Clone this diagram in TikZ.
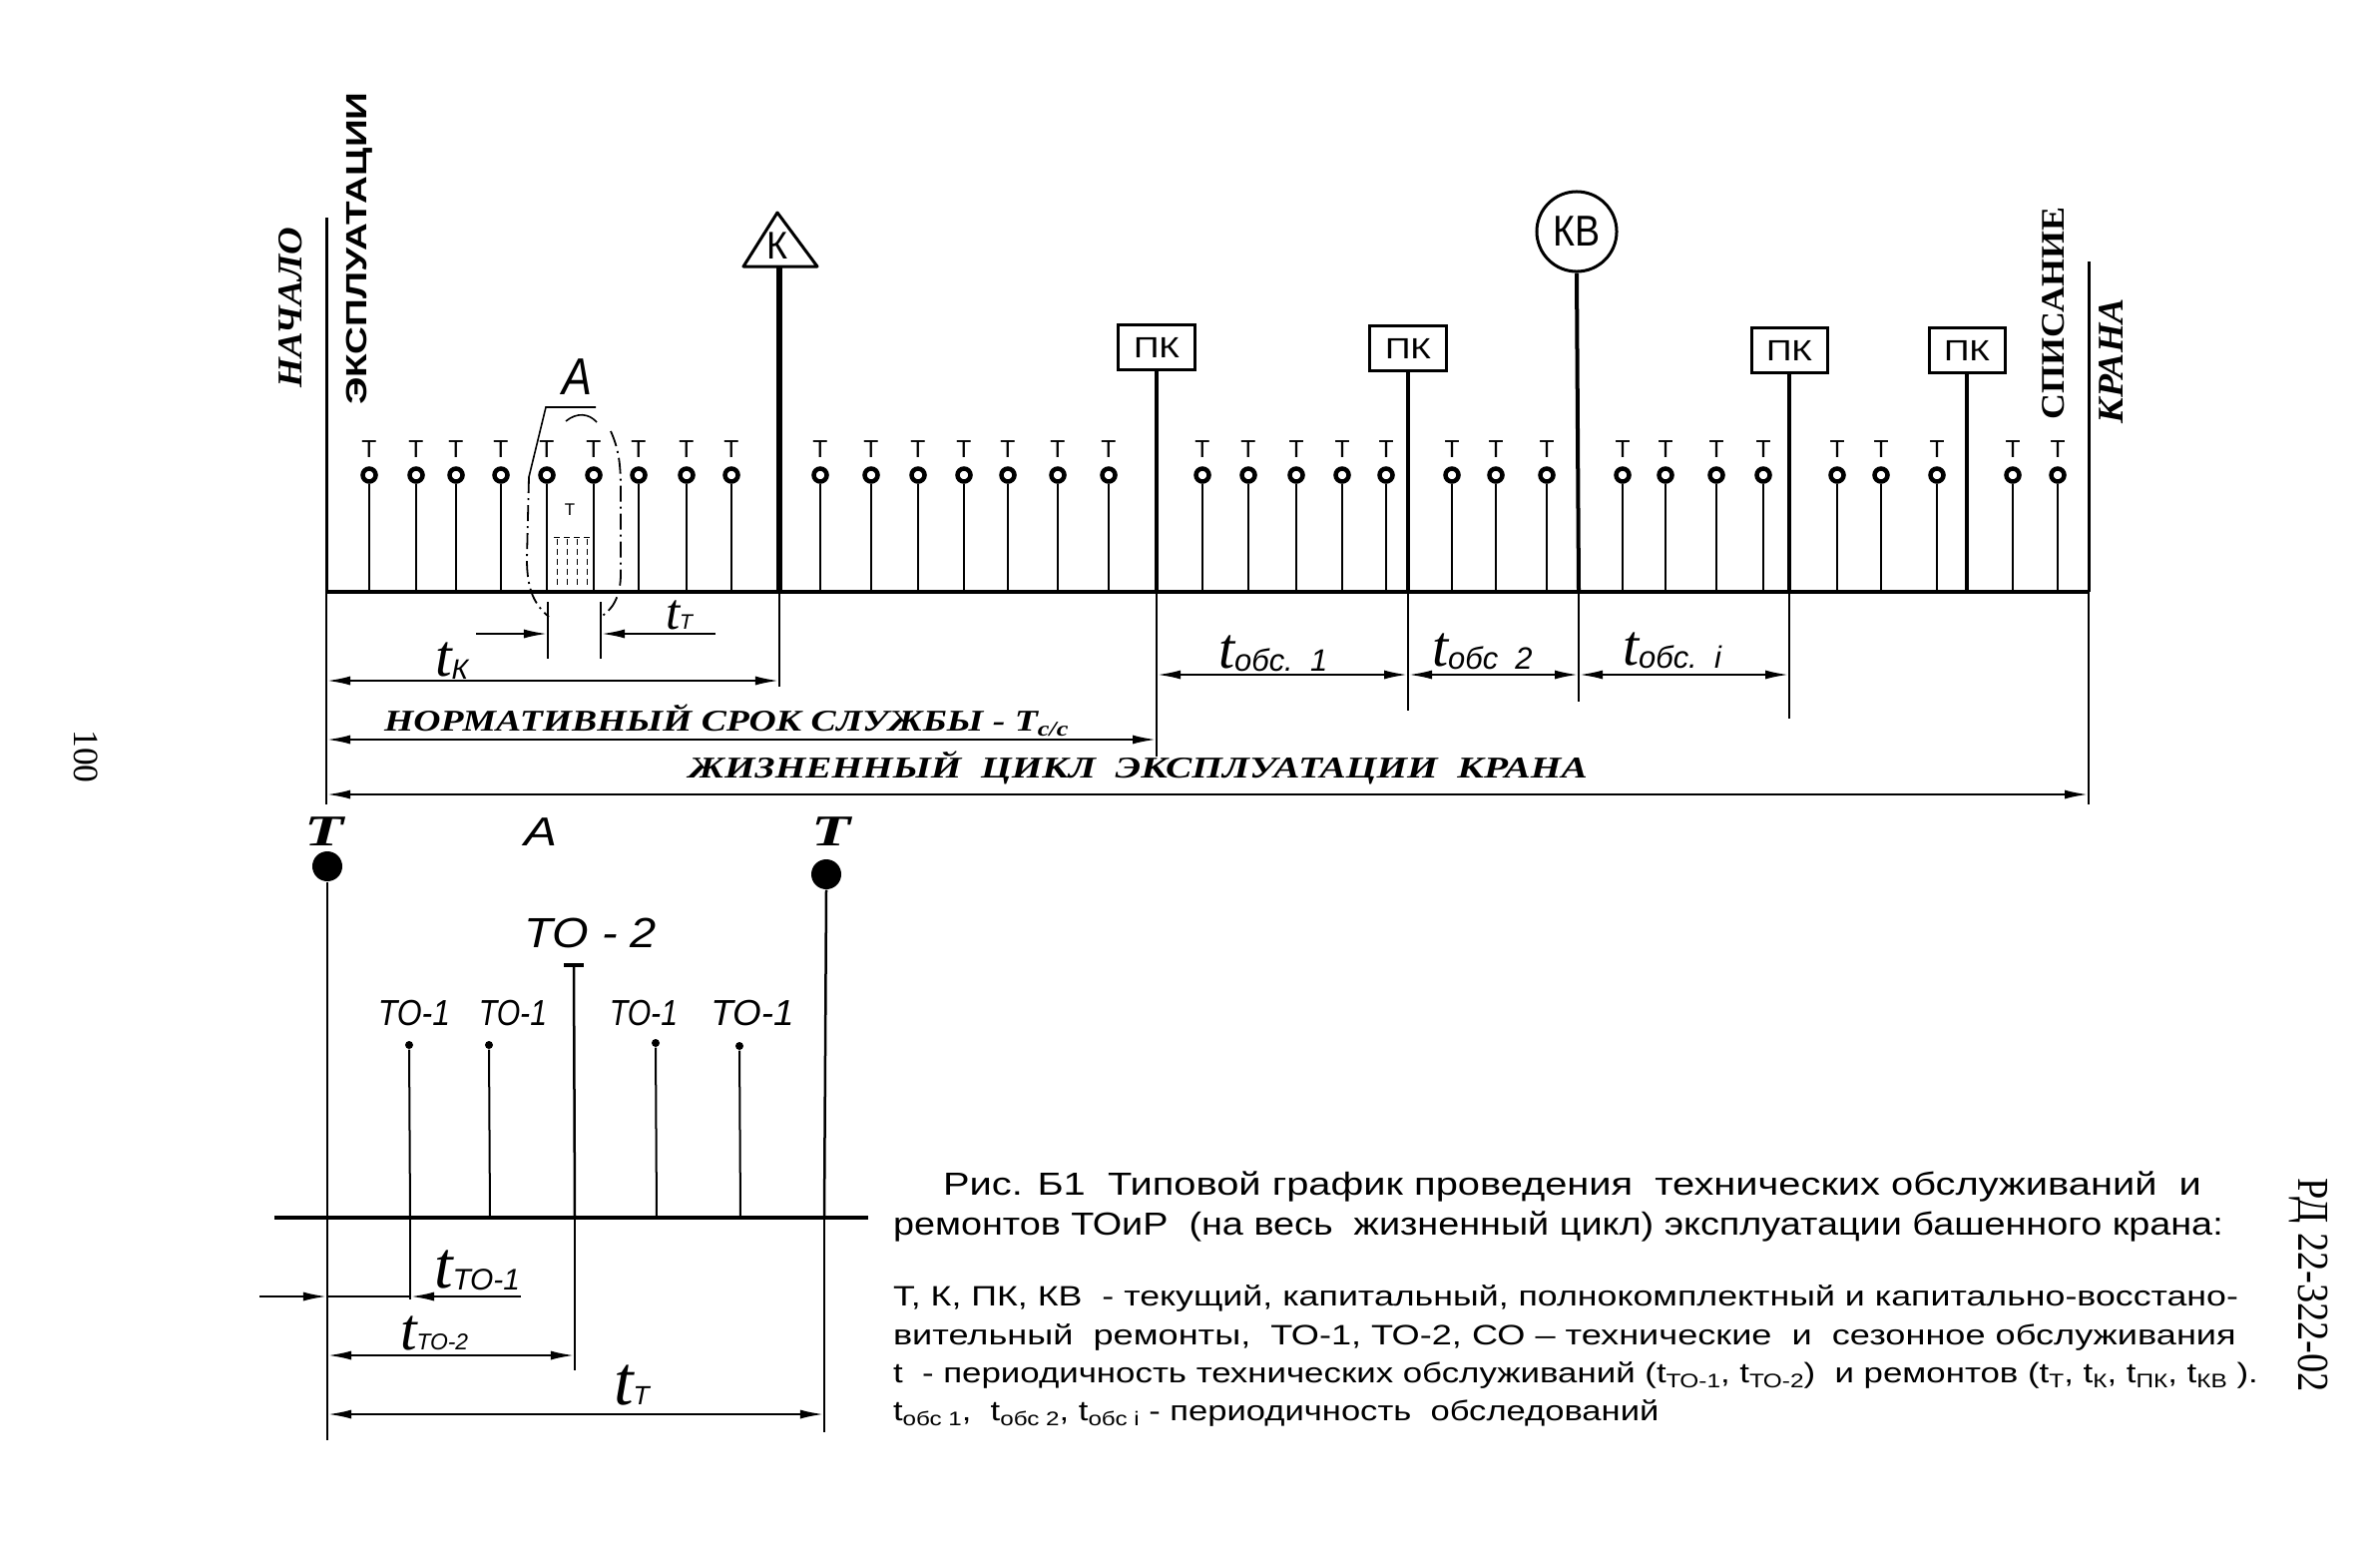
\documentclass[tikz,border=0pt]{standalone}
\usepackage{fontspec}
\usepackage{graphicx}
\setmainfont{Liberation Serif}
\newfontfamily\sansf{Liberation Sans}
\newfontfamily\serf{Liberation Serif}
\usetikzlibrary{arrows.meta}
\newcommand{\fs}[1]{\fontsize{#1}{#1}\selectfont}
\newcommand{\fitw}[2]{\resizebox{#1}{\height}{#2}}
\newcommand{\tlabl}[4]{{\serf\itshape\fs{#1}t}\raisebox{-#4}{\sansf\itshape\fs{#2}#3}}
\newcommand{\capsb}[1]{\raisebox{-0.35ex}{\fs{5.6pt}#1}}
\tikzset{
  lbl/.style={inner sep=0pt, outer sep=0pt},
  baseln/.style={line width=0.04cm},
  stemln/.style={line width=0.02cm},
  extln/.style={line width=0.014cm},
  dimln/.style={line width=0.025cm},
  tipr/.style={dimln,-{Latex[length=0.24cm,width=0.09cm]}},
  dimarr/.style={dimln,{Latex[length=0.24cm,width=0.09cm]}-{Latex[length=0.24cm,width=0.09cm]}},
  ring/.style={circle, draw, line width=0.045cm, fill=white, minimum size=0.13cm, inner sep=0pt},
  pkbox/.style={draw, line width=0.03cm, minimum width=0.76cm, minimum height=0.44cm, inner sep=0pt},
  bigdot/.style={circle, fill, minimum size=0.30cm, inner sep=0pt},
  smalldot/.style={circle, fill, minimum size=0.08cm, inner sep=0pt},
  ddot/.style={line width=0.018cm, dash pattern=on 0.16cm off 0.05cm on 0.02cm off 0.05cm},
}
\begin{document}
\begin{tikzpicture}[x=0.01cm, y=-0.01cm]
\useasboundingbox (0,0) rectangle (2385,1548);
\fill[white] (0,0) rectangle (2385,1548);

% ---------- upper time line ----------
\coordinate (L0) at (327,218); \coordinate (Lb) at (327,593); \coordinate (Ld) at (327,806);
\coordinate (R0) at (2093,262); \coordinate (Rb) at (2093,593); \coordinate (Rd) at (2093,806);
\draw[baseln] (Lb) -- (Rb);
\draw[line width=0.03cm] (L0) -- (Lb);
\draw[extln] (Lb) -- (Ld);
\draw[line width=0.03cm] (R0) -- (Rb);
\draw[extln] (Rb) -- (Rd);

% T ticks
\foreach \x [count=\i] in {370,417,457,502,548,595,640,688,733,822,873,920,966,1010,1060,1111,1205,1251,1299,1345,1389,1455,1499,1550,1626,1669,1720,1767,1841,1885,1941,2017,2062}{
  \node[lbl] (tl\i) at (\x,450) {\sansf\fs{7pt}Т};
  \node[ring] (tc\i) at (\x,476) {};
  \coordinate (tb\i) at (\x,593);
  \draw[stemln] (tc\i.south) -- (tb\i);
}

% K triangle
\coordinate (Ka) at (779,213); \coordinate (Kl) at (745,267); \coordinate (Kr) at (819,267);
\draw[line width=0.03cm, line join=round] (Ka) -- (Kl) -- (Kr) -- cycle;
\node[lbl] (Klab) at (779,246) {\sansf\fs{11pt}\fitw{0.21cm}{К}};
\coordinate (Ks) at (781,267); \coordinate (Kb) at (781,593); \coordinate (Kd) at (781,688);
\draw[line width=0.055cm] (Ks) -- (Kb);
\draw[extln] (Kb) -- (Kd);

% PK boxes
\node[pkbox] (pk1) at (1159,348) {\sansf\fs{8.3pt}\fitw{0.46cm}{ПК}};
\node[pkbox] (pk2) at (1411,349) {\sansf\fs{8.3pt}\fitw{0.46cm}{ПК}};
\node[pkbox] (pk3) at (1793,351) {\sansf\fs{8.3pt}\fitw{0.46cm}{ПК}};
\node[pkbox] (pk4) at (1971,351) {\sansf\fs{8.3pt}\fitw{0.46cm}{ПК}};
\coordinate (pk1b) at (1159,593); \coordinate (pk1d) at (1159,758);
\coordinate (pk2b) at (1411,593); \coordinate (pk2d) at (1411,712);
\coordinate (pk3b) at (1793,593); \coordinate (pk3d) at (1793,720);
\coordinate (pk4b) at (1971,593);
\draw[line width=0.04cm] (pk1.south) -- (pk1b);
\draw[line width=0.04cm] (pk2.south) -- (pk2b);
\draw[line width=0.04cm] (pk3.south) -- (pk3b);
\draw[line width=0.04cm] (pk4.south) -- (pk4b);
\draw[extln] (pk1b) -- (pk1d);
\draw[extln] (pk2b) -- (pk2d);
\draw[extln] (pk3b) -- (pk3d);

% KV circle
\node[draw, circle, line width=0.03cm, minimum size=0.80cm, inner sep=0pt] (kv) at (1580,232) {\sansf\fs{12.3pt}\fitw{0.47cm}{КВ}};
\coordinate (kvb) at (1582,593); \coordinate (kvd) at (1582,703);
\draw[line width=0.04cm] (kv.south) -- (kvb);
\draw[extln] (kvb) -- (kvd);

% vertical captions
\node[lbl, rotate=90] (nach) at (291,308) {\serf\bfseries\itshape\fs{9.9pt}\fitw{1.61cm}{НАЧАЛО}};
\node[lbl, rotate=90] (expl) at (360,249) {\sansf\bfseries\fs{8.3pt}\fitw{3.13cm}{ЭКСПЛУАТАЦИИ}};
\node[lbl, rotate=90] (spis) at (2058,314) {\serf\bfseries\fs{9.4pt}\fitw{2.12cm}{СПИСАНИЕ}};
\node[lbl, rotate=90] (kran) at (2116,362) {\serf\bfseries\itshape\fs{10.3pt}\fitw{1.25cm}{КРАНА}};

% detail A marker in the upper chart
\node[lbl] (Aup) at (578,378) {\sansf\itshape\fs{14.8pt}\fitw{0.30cm}{А}};
\coordinate (e1) at (530,478); \coordinate (e2) at (547,408); \coordinate (e3) at (597,408);
\draw[line width=0.016cm] (e1) -- (e2) -- (e3);
\coordinate (e4) at (567,422); \coordinate (e5) at (598,423);
\draw[line width=0.016cm] (e4) .. controls (578,413) and (590,414) .. (e5);
\coordinate (e6) at (550,618); \coordinate (e7) at (602,618); \coordinate (e8) at (612,432);
\draw[ddot] (e1) -- (528,560) .. controls (528,592) and (536,606) .. (e6);
\draw[ddot] (e8) .. controls (620,450) and (622,465) .. (622,490) -- (622,575) .. controls (622,600) and (612,612) .. (e7);
\node[lbl] (tsmall) at (571,511) {\sansf\fs{4.8pt}Т};
\foreach \x in {558,568,578,588}{
  \draw[line width=0.01cm, dash pattern=on 0.06cm off 0.04cm] (\x,540) -- (\x,590);
  \draw[line width=0.01cm] (\x-3,538) -- (\x+3,538);
}

% ---------- upper dimensions ----------
\coordinate (tkL) at (327,682); \coordinate (tkR) at (781,682);
\draw[dimarr] (tkL) -- (tkR);
\node[lbl, anchor=base west] (ltk) at (436,677) {\tlabl{17pt}{8pt}{К}{0.03cm}};

\coordinate (ttA) at (477,635); \coordinate (ttB) at (549,635);
\coordinate (ttC) at (602,635); \coordinate (ttD) at (717,635);
\coordinate (x1a) at (549,603); \coordinate (x1b) at (549,660);
\coordinate (x2a) at (602,603); \coordinate (x2b) at (602,660);
\draw[extln] (x1a) -- (x1b);
\draw[extln] (x2a) -- (x2b);
\draw[tipr] (ttA) -- (ttB);
\draw[tipr] (ttD) -- (ttC);
\node[lbl, anchor=base west] (ltt) at (667,630) {\tlabl{14.5pt}{6pt}{Т}{0cm}};

\coordinate (o1) at (1159,676); \coordinate (o2) at (1411,676);
\coordinate (o3) at (1582,676); \coordinate (o4) at (1793,676);
\draw[dimarr] (o1) -- (o2);
\draw[dimarr] (o2) -- (o3);
\draw[dimarr] (o3) -- (o4);
\node[lbl, anchor=base west] (lob1) at (1221,669) {\tlabl{16.5pt}{8.8pt}{обс.\ \ 1}{0.03cm}};
\node[lbl, anchor=base west] (lob2) at (1435,667) {\tlabl{16.5pt}{8.8pt}{обс\ \ 2}{0.03cm}};
\node[lbl, anchor=base west] (lob3) at (1626,666) {\tlabl{16.5pt}{8.8pt}{обс.\ \ i}{0.03cm}};

\coordinate (nL) at (327,741); \coordinate (nR) at (1159,741);
\draw[dimarr] (nL) -- (nR);
\node[lbl, anchor=base west] (norm) at (385,732) {\serf\bfseries\itshape\fs{8.6pt}\fitw{6.85cm}{НОРМАТИВНЫЙ СРОК СЛУЖБЫ - Т\raisebox{-0.4ex}{\fs{6pt}с/с}}};

\coordinate (zL) at (327,796); \coordinate (zR) at (2093,796);
\draw[dimarr] (zL) -- (zR);
\node[lbl, anchor=base west] (zhizn) at (690,779) {\serf\bfseries\itshape\fs{8.6pt}\fitw{9.0cm}{ЖИЗНЕННЫЙ\ \ ЦИКЛ\ \ ЭКСПЛУАТАЦИИ\ \ КРАНА}};

% ---------- detail A ----------
\node[lbl] (Tlft) at (325,833) {\serf\bfseries\itshape\fs{12.5pt}\fitw{0.39cm}{Т}};
\node[lbl] (Trgt) at (833,833) {\serf\bfseries\itshape\fs{12.5pt}\fitw{0.39cm}{Т}};
\node[lbl] (Alow) at (542,834) {\sansf\itshape\fs{11.5pt}\fitw{0.33cm}{А}};
\node[bigdot] (dL) at (328,868) {};
\node[bigdot] (dR) at (828,876) {};
\coordinate (bl0) at (275,1220); \coordinate (bl1) at (870,1220);
\draw[baseln] (bl0) -- (bl1);
\coordinate (dLb) at (328,1220); \coordinate (dLe) at (328,1443);
\coordinate (dRb) at (826,1220); \coordinate (dRe) at (826,1435);
\draw[line width=0.025cm] (dL.south) -- (dLb);
\draw[line width=0.025cm] (dR.south) -- (dRb);
\draw[extln] (dLb) -- (dLe);
\draw[extln] (dRb) -- (dRe);

\node[lbl] (to2) at (592,935) {\sansf\itshape\fs{12pt}\fitw{1.32cm}{ТО - 2}};
\coordinate (to2t) at (575,967); \coordinate (to2l) at (565,967); \coordinate (to2r) at (585,967);
\coordinate (to2b) at (576,1220); \coordinate (to2e) at (576,1373);
\draw[line width=0.04cm] (to2l) -- (to2r);
\draw[line width=0.025cm] (to2t) -- (to2b);
\draw[extln] (to2b) -- (to2e);

\node[lbl] (to1a) at (415,1015) {\sansf\itshape\fs{10.3pt}\fitw{0.72cm}{ТО-1}};
\node[lbl] (to1b) at (514,1015) {\sansf\itshape\fs{10.3pt}\fitw{0.68cm}{ТО-1}};
\node[lbl] (to1c) at (645,1015) {\sansf\itshape\fs{10.3pt}\fitw{0.68cm}{ТО-1}};
\node[lbl] (to1d) at (754,1015) {\sansf\itshape\fs{10.3pt}\fitw{0.83cm}{ТО-1}};
\node[smalldot] (d1) at (410,1047) {};
\node[smalldot] (d2) at (490,1047) {};
\node[smalldot] (d3) at (657,1045) {};
\node[smalldot] (d4) at (741,1048) {};
\coordinate (d1b) at (411,1220); \coordinate (d1e) at (411,1302);
\coordinate (d2b) at (491,1220); \coordinate (d3b) at (658,1220); \coordinate (d4b) at (742,1220);
\draw[stemln] (d1) -- (d1b);
\draw[stemln] (d2) -- (d2b);
\draw[stemln] (d3) -- (d3b);
\draw[stemln] (d4) -- (d4b);
\draw[extln] (d1b) -- (d1e);

% detail dimensions
\coordinate (a1) at (260,1299); \coordinate (a2) at (328,1299);
\coordinate (a3) at (522,1299); \coordinate (a4) at (411,1299);
\draw[dimln] (a2) -- (a4);
\draw[tipr] (a1) -- (a2);
\draw[tipr] (a3) -- (a4);
\node[lbl, anchor=base west] (lto1) at (435,1290) {\tlabl{19pt}{8.5pt}{ТО-1}{0.02cm}};

\coordinate (b1) at (328,1358); \coordinate (b2) at (576,1358);
\draw[dimarr] (b1) -- (b2);
\node[lbl, anchor=base west] (lto2) at (401,1352) {\tlabl{17pt}{6.5pt}{ТО-2}{0cm}};

\coordinate (c1) at (328,1417); \coordinate (c2) at (826,1417);
\draw[dimarr] (c1) -- (c2);
\node[lbl, anchor=base west] (ltt2) at (615,1407) {\tlabl{20pt}{7.5pt}{Т}{0cm}};

% ---------- caption ----------
\node[lbl, anchor=base west] (cap1) at (945,1197) {\sansf\fs{9.1pt}\fitw{12.6cm}{Рис. Б1\ \ Типовой график проведения\ \ технических обслуживаний\ \ и}};
\node[lbl, anchor=base west] (cap2) at (895,1237) {\sansf\fs{9.1pt}\fitw{13.32cm}{ремонтов ТОиР\ \ (на весь\ \ жизненный цикл) эксплуатации башенного крана:}};
\node[lbl, anchor=base west] (cap3) at (895,1308) {\sansf\fs{8pt}\fitw{13.47cm}{Т, К, ПК, КВ\ \ - текущий, капитальный, полнокомплектный и капитально-восстано-}};
\node[lbl, anchor=base west] (cap4) at (895,1347) {\sansf\fs{8pt}\fitw{13.45cm}{вительный\ \ ремонты,\ \ ТО-1, ТО-2, СО – технические\ \ и\ \ сезонное обслуживания}};
\node[lbl, anchor=base west] (cap5) at (895,1385) {\sansf\fs{8pt}\fitw{13.67cm}{t\ \ - периодичность технических обслуживаний (t\capsb{ТО-1}, t\capsb{ТО-2})\ \ и ремонтов (t\capsb{Т}, t\capsb{К}, t\capsb{ПК}, t\capsb{КВ} ).}};
\node[lbl, anchor=base west] (cap6) at (895,1423) {\sansf\fs{8pt}\fitw{7.67cm}{t\capsb{обс 1},\ \ t\capsb{обс 2}, t\capsb{обс i} - периодичность\ \ обследований}};

% side texts
\node[lbl, rotate=-90] (rd) at (2313,1288) {\serf\fs{12.6pt}\fitw{2.14cm}{РД 22-322-02}};
\node[lbl, rotate=-90] (pg) at (86,758) {\serf\fs{10.1pt}100};
\end{tikzpicture}
\end{document}
